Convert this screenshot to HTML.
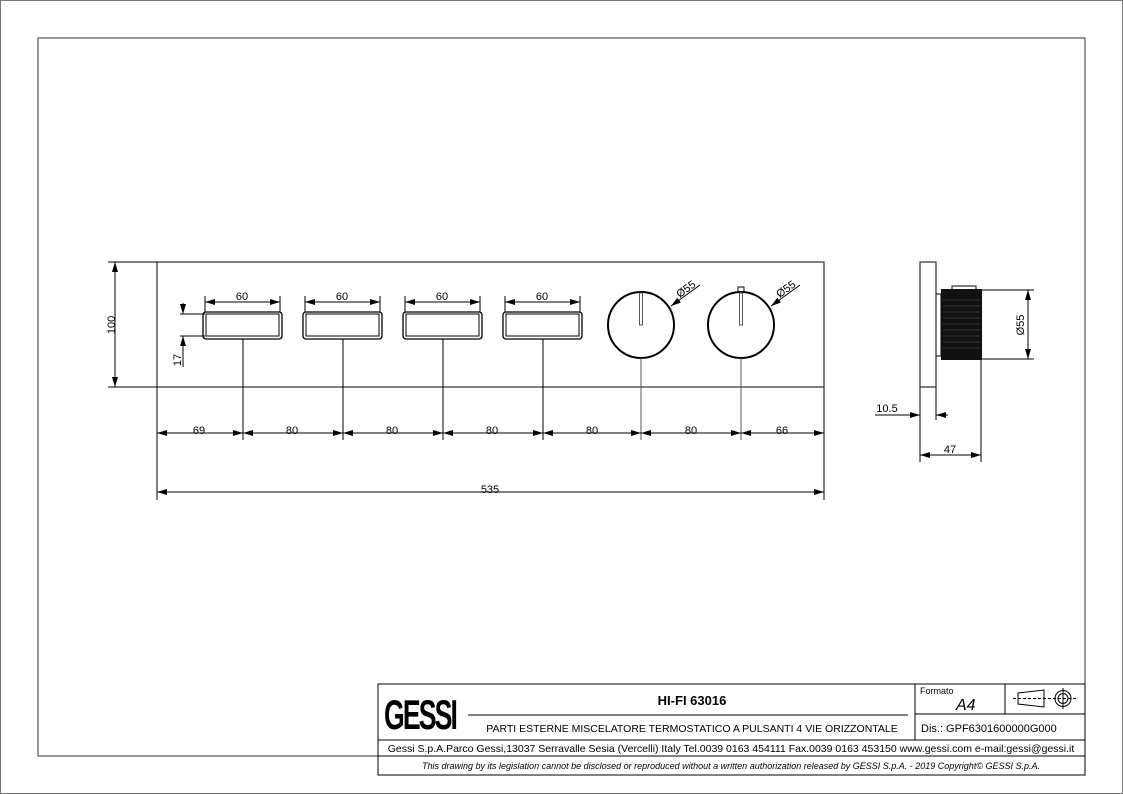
<!DOCTYPE html>
<html><head><meta charset="utf-8"><style>
html,body{margin:0;padding:0;background:#fff;}
svg{display:block;font-family:"Liberation Sans",Arial,sans-serif;}
</style></head><body>
<svg width="1123" height="794" viewBox="0 0 1123 794" xmlns="http://www.w3.org/2000/svg">
<defs>
<marker id="a" viewBox="0 0 10 6" refX="10" refY="3" markerWidth="10" markerHeight="6" orient="auto-start-reverse" markerUnits="userSpaceOnUse"><path d="M0,0 L10,3 L0,6 z" fill="#000"/></marker>
</defs>
<rect x="0.5" y="0.5" width="1122" height="793" fill="none" stroke="#777" stroke-width="1"/>
<!-- frame -->
<path d="M378,756 L38,756 L38,38 L1085,38 L1085,775" fill="none" stroke="#333" stroke-width="1"/>
<g stroke="#000" fill="none" stroke-width="1">
<!-- plate -->
<rect x="157" y="262" width="667" height="125"/>
<!-- buttons -->
<g>
<rect x="203" y="312" width="79" height="27" rx="3" stroke-width="1.3"/><rect x="206" y="314" width="73" height="22"/>
<rect x="303" y="312" width="79" height="27" rx="3" stroke-width="1.3"/><rect x="306" y="314" width="73" height="22"/>
<rect x="403" y="312" width="79" height="27" rx="3" stroke-width="1.3"/><rect x="406" y="314" width="73" height="22"/>
<rect x="503" y="312" width="79" height="27" rx="3" stroke-width="1.3"/><rect x="506" y="314" width="73" height="22"/>
</g>
<!-- circles -->
<circle cx="641" cy="325" r="33" stroke-width="2"/>
<circle cx="741" cy="325" r="33" stroke-width="2"/>
<rect x="639.5" y="293" width="3" height="32" stroke="#555"/>
<rect x="739.5" y="293" width="3" height="32" stroke="#555"/>
<rect x="738" y="287" width="6" height="5"/>
<!-- center lines -->
<line x1="243" y1="339" x2="243" y2="440"/>
<line x1="343" y1="339" x2="343" y2="440"/>
<line x1="443" y1="339" x2="443" y2="440"/>
<line x1="543" y1="339" x2="543" y2="440"/>
<line x1="641" y1="358" x2="641" y2="440" stroke="#555"/>
<line x1="741" y1="358" x2="741" y2="440" stroke="#555"/>
<line x1="157" y1="387" x2="157" y2="500"/>
<line x1="824" y1="325" x2="824" y2="500"/>
<!-- 60 dims -->
<g marker-start="url(#a)" marker-end="url(#a)">
<line x1="205" y1="302" x2="280" y2="302"/>
<line x1="305" y1="302" x2="380" y2="302"/>
<line x1="405" y1="302" x2="480" y2="302"/>
<line x1="505" y1="302" x2="580" y2="302"/>
</g>
<line x1="205" y1="296" x2="205" y2="312"/><line x1="280" y1="296" x2="280" y2="312"/>
<line x1="305" y1="296" x2="305" y2="312"/><line x1="380" y1="296" x2="380" y2="312"/>
<line x1="405" y1="296" x2="405" y2="312"/><line x1="480" y1="296" x2="480" y2="312"/>
<line x1="505" y1="296" x2="505" y2="312"/><line x1="580" y1="296" x2="580" y2="312"/>
<!-- 17 dim -->
<line x1="180" y1="314" x2="205" y2="314"/><line x1="180" y1="336" x2="205" y2="336"/>
<line x1="183" y1="303" x2="183" y2="314" marker-end="url(#a)"/>
<line x1="183" y1="367" x2="183" y2="336" marker-end="url(#a)"/>
<!-- 100 dim -->
<line x1="108" y1="262" x2="165" y2="262"/><line x1="108" y1="387" x2="165" y2="387"/>
<line x1="115" y1="262" x2="115" y2="387" marker-start="url(#a)" marker-end="url(#a)"/>
<!-- chain dims -->
<g marker-start="url(#a)" marker-end="url(#a)">
<line x1="157" y1="433" x2="243" y2="433"/>
<line x1="243" y1="433" x2="343" y2="433"/>
<line x1="343" y1="433" x2="443" y2="433"/>
<line x1="443" y1="433" x2="543" y2="433"/>
<line x1="543" y1="433" x2="641" y2="433"/>
<line x1="641" y1="433" x2="741" y2="433"/>
<line x1="741" y1="433" x2="824" y2="433"/>
<line x1="157" y1="492" x2="824" y2="492"/>
</g>
<!-- diameter leaders -->
<line x1="671" y1="306" x2="700" y2="285" marker-start="url(#a)"/>
<line x1="771" y1="306" x2="800" y2="285" marker-start="url(#a)"/>
<!-- side view -->
<rect x="920" y="262" width="16" height="125"/>
<path d="M936,294 L941,294 M936,356 L941,356 M941,294 L941,356"/>
<rect x="952" y="286" width="24" height="4"/>
<line x1="981" y1="290" x2="1034" y2="290"/><line x1="981" y1="359" x2="1034" y2="359"/>
<line x1="1028" y1="290" x2="1028" y2="359" marker-start="url(#a)" marker-end="url(#a)"/>
<line x1="920" y1="387" x2="920" y2="462"/><line x1="936" y1="387" x2="936" y2="420"/>
<line x1="981" y1="359" x2="981" y2="462"/>
<line x1="875" y1="415" x2="920" y2="415" marker-end="url(#a)"/>
<line x1="948" y1="415" x2="936" y2="415" marker-end="url(#a)"/>
<line x1="920" y1="455" x2="981" y2="455" marker-start="url(#a)" marker-end="url(#a)"/>
</g>
<rect x="941" y="289" width="41" height="71" fill="#111"/>
<g stroke="#444" stroke-width="0.7">
<line x1="943" y1="300" x2="980" y2="300"/><line x1="943" y1="306" x2="980" y2="306"/><line x1="943" y1="312" x2="980" y2="312"/><line x1="943" y1="318" x2="980" y2="318"/><line x1="943" y1="324" x2="980" y2="324"/><line x1="943" y1="330" x2="980" y2="330"/><line x1="943" y1="336" x2="980" y2="336"/><line x1="943" y1="342" x2="980" y2="342"/><line x1="943" y1="348" x2="980" y2="348"/>
</g>
<!-- dim text -->
<g font-size="11" fill="#000" text-anchor="middle">
<text x="242" y="300">60</text><text x="342" y="300">60</text><text x="442" y="300">60</text><text x="542" y="300">60</text>
<text x="199" y="434">69</text><text x="292" y="434">80</text><text x="392" y="434">80</text><text x="492" y="434">80</text><text x="592" y="434">80</text><text x="691" y="434">80</text><text x="782" y="434">66</text>
<text x="490" y="493">535</text>
<text x="950" y="453">47</text>
<text x="887" y="412">10.5</text>
<text transform="translate(115,325) rotate(-90)">100</text>
<text transform="translate(181,360) rotate(-90)">17</text>
<text transform="translate(1024,325) rotate(-90)">Ø55</text>
<text transform="translate(688,292) rotate(-36)">Ø55</text>
<text transform="translate(788,292) rotate(-36)">Ø55</text>
</g>
<!-- title block -->
<g stroke="#000" fill="none" stroke-width="1">
<rect x="378" y="684" width="707" height="91"/>
<line x1="378" y1="740" x2="1085" y2="740"/>
<line x1="378" y1="756" x2="1085" y2="756"/>
<line x1="915" y1="684" x2="915" y2="740"/>
<line x1="915" y1="714" x2="1085" y2="714"/>
<line x1="1005" y1="684" x2="1005" y2="714"/>
<line x1="468" y1="715" x2="908" y2="715"/>
<path d="M1018,693 L1044,690 L1044,707 L1018,704 Z"/>
<line x1="1013" y1="698.5" x2="1076" y2="698.5" stroke-dasharray="3,2"/>
<circle cx="1063" cy="698.5" r="8"/><circle cx="1063" cy="698.5" r="5"/>
<line x1="1063" y1="688" x2="1063" y2="709"/>
</g>
<text x="420" y="729" font-size="42" font-weight="bold" text-anchor="middle" textLength="72" lengthAdjust="spacingAndGlyphs" style="letter-spacing:-3px">GESSI</text>
<g fill="#000">
<text x="692" y="705" font-size="13" font-weight="bold" text-anchor="middle">HI-FI 63016</text>
<text x="692" y="732" font-size="10.5" text-anchor="middle">PARTI ESTERNE MISCELATORE TERMOSTATICO A PULSANTI 4 VIE ORIZZONTALE</text>
<text x="920" y="694" font-size="9">Formato</text>
<text x="956" y="710" font-size="16" font-style="italic">A4</text>
<text x="921" y="732" font-size="11">Dis.: GPF6301600000G000</text>
<text x="731" y="752" font-size="10.5" text-anchor="middle">Gessi S.p.A.Parco Gessi,13037 Serravalle Sesia (Vercelli) Italy Tel.0039 0163 454111 Fax.0039 0163 453150 www.gessi.com e-mail:gessi@gessi.it</text>
<text x="731" y="769" font-size="9" font-style="italic" text-anchor="middle">This drawing by its legislation cannot be disclosed or reproduced without a written authorization released by GESSI S.p.A. - 2019 Copyright© GESSI S.p.A.</text>
</g>
</svg>
</body></html>
